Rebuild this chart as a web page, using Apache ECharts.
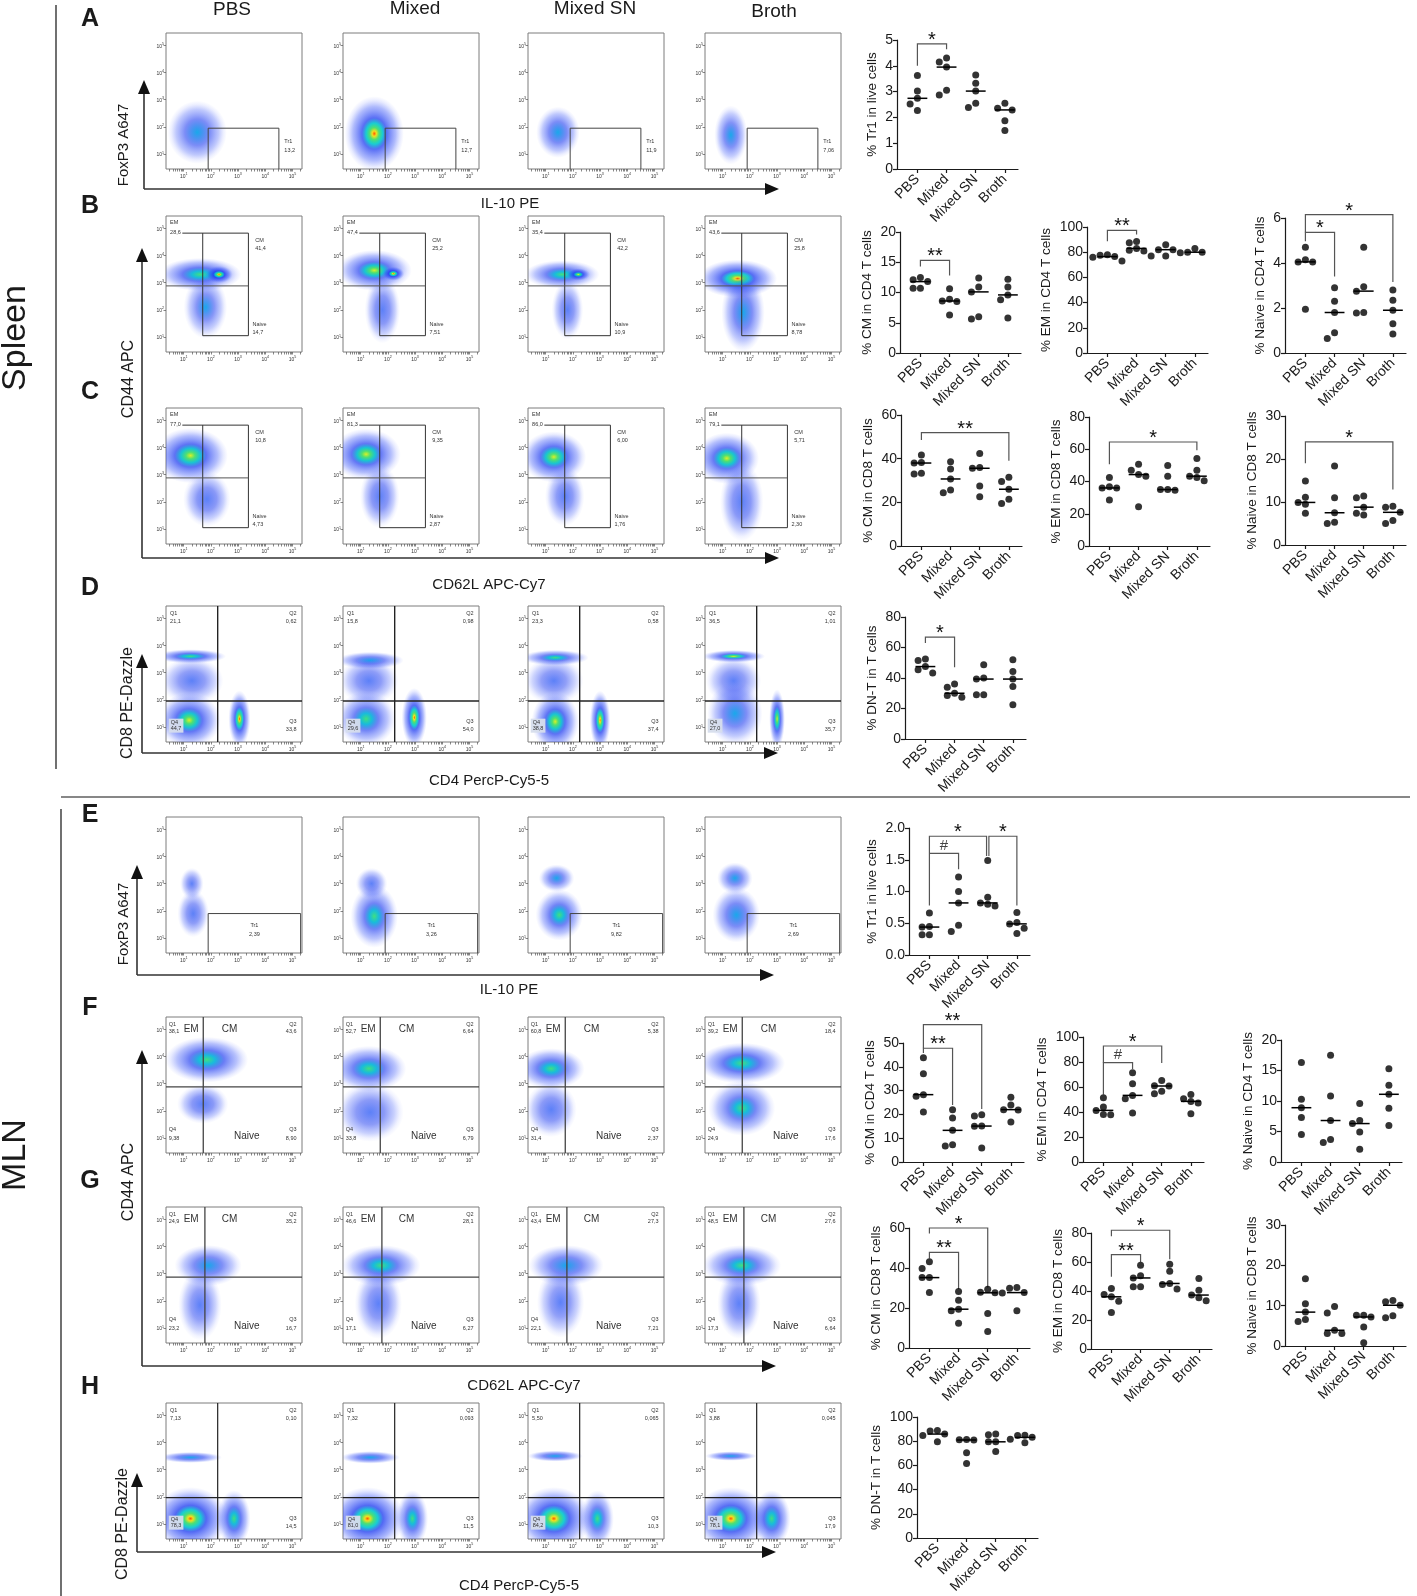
<!DOCTYPE html>
<html>
<head>
<meta charset="utf-8">
<title>Tr1, memory and DN-T cells in spleen and MLN</title>
<script src="https://cdn.jsdelivr.net/npm/echarts@6.0.0/dist/echarts.min.js"></script>
<style>
  html, body { margin: 0; padding: 0; background: #fff; }
  #chart { width: 1417px; height: 1596px; }
</style>
</head>
<body>
<div id="chart"></div>
<script>
var groups = ['PBS', 'Mixed', 'Mixed SN', 'Broth'];

// % per mouse (5 mice per group)
var tr1Spleen      = [[3.62, 3.02, 2.74, 2.52, 2.27], [4.3, 4.15, 3.95, 3.05, 2.87], [3.64, 3.32, 3.02, 2.55, 2.38], [2.55, 2.35, 2.29, 1.87, 1.49]];
var cmCd4Spleen    = [[12.5, 12.1, 11.8, 10.7, 10.7], [10.6, 8.9, 8.6, 8.5, 6.3], [12.4, 10.9, 10.1, 6.0, 5.6], [12.2, 10.9, 9.6, 8.8, 5.8]];
var emCd4Spleen    = [[78, 77.5, 76.5, 76, 73], [88.5, 87.5, 83, 81.5, 81], [86, 82, 82, 77, 77], [83, 80, 80, 79.5, 79.5]];
var naiveCd4Spleen = [[4.7, 4.15, 4.05, 4.05, 1.95], [2.9, 2.3, 1.8, 0.9, 0.65], [4.7, 2.95, 2.75, 1.8, 1.78], [2.8, 2.35, 1.9, 1.3, 0.85]];
var cmCd8Spleen    = [[41.7, 38.2, 38, 33.3, 33], [38.6, 35.3, 30.7, 25.6, 24.4], [42.4, 36, 35.6, 27.5, 22.6], [31.5, 29.5, 26, 21.4, 19.5]];
var emCd8Spleen    = [[42.5, 36.7, 36, 36, 28.5], [50.7, 47, 44.3, 43.3, 24.3], [50, 43.3, 35, 35, 34.6], [54.2, 47, 43.3, 42.5, 40.4]];
var naiveCd8Spleen = [[14.9, 11.1, 9.9, 9.5, 7.4], [18.4, 11, 7.5, 5.3, 5], [11.4, 11, 8.8, 7.4, 7], [9, 8.8, 7.6, 5.7, 5]];
var dnSpleen       = [[52.4, 51.5, 47.5, 45.4, 43.2], [36, 34, 30, 28.5, 27.4], [48.7, 40, 39.3, 29, 29], [52, 44.3, 39.3, 34.4, 22.4]];
var tr1Mln         = [[0.66, 0.45, 0.44, 0.32, 0.32], [1.23, 1.0, 0.82, 0.47, 0.37], [1.49, 0.91, 0.82, 0.8, 0.77], [0.67, 0.51, 0.49, 0.42, 0.34]];
var cmCd4Mln       = [[43.8, 37.1, 28.3, 27.6, 21], [22, 18.5, 13.3, 7.3, 6.7], [19.9, 19.3, 15.1, 15, 5.9], [27.2, 24, 22, 21.8, 16.8]];
var emCd4Mln       = [[51.5, 44, 41.3, 38, 37.9], [71.5, 62.7, 53.3, 50.7, 39.2], [65.3, 61, 60.8, 56.7, 54.7], [54, 50.7, 48.5, 47.3, 38.7]];
var naiveCd4Mln    = [[16.3, 10.3, 8.9, 7.3, 4.5], [17.5, 10.8, 6.8, 3.7, 3.2], [9.6, 6.8, 6.3, 4.9, 2.1], [15.3, 12.6, 11.1, 8.8, 6]];
var cmCd8Mln       = [[43.1, 39.8, 35.2, 35.2, 27.7], [28.2, 23.9, 19.4, 18.6, 12.4], [29.4, 27.9, 27.6, 17.2, 8.3], [30.2, 29.9, 27.7, 27.5, 18.6]];
var emCd8Mln       = [[41.7, 37.6, 36, 33, 25.2], [57.8, 50.5, 49, 43, 42.9], [58.5, 53.7, 45.2, 44.5, 41.3], [48.6, 40.6, 37.2, 35.3, 33.3]];
var naiveCd8Mln    = [[16.7, 10.5, 8.4, 6.6, 6.1], [9.8, 8.2, 3.9, 3.1, 3.1], [7.6, 7.6, 7.2, 4.7, 0.8], [11.3, 11, 10.1, 7.5, 7]];
var dnMln          = [[88.8, 88.5, 85.9, 84.8, 79.5], [81.5, 81.2, 81, 70.5, 61.5], [86, 85.3, 79.5, 79.5, 71.5], [85, 84.8, 83.2, 81.6, 78.7]];

// significance brackets: [from group, to group, bar level, left leg end, right leg end, mark]
var bracketsTr1Spleen      = [[0, 1, 4.85, 4.0, 4.64, '*']];
var bracketsCmCd4Spleen    = [[0, 1, 15.3, 14.3, 12.8, '**']];
var bracketsEmCd4Spleen    = [[0, 1, 97.4, 88.6, 94, '**']];
var bracketsNaiveCd4Spleen = [[0, 1, 5.36, 4.97, 3.4, '*'], [0, 3, 6.15, 5.36, 3.16, '*']];
var bracketsCmCd8Spleen    = [[0, 3, 51.9, 48.5, 39, '**']];
var bracketsEmCd8Spleen    = [[0, 3, 64.5, 50.7, 59.4, '*']];
var bracketsNaiveCd8Spleen = [[0, 3, 24, 19, 12.9, '*']];
var bracketsDnSpleen       = [[0, 1, 66.8, 62.9, 47, '*']];
var bracketsTr1Mln         = [[0, 1.96, 1.87, 0.78, 1.56, '*'], [0, 1, 1.6, 1.6, 1.35, '#'], [2.04, 3, 1.87, 1.56, 0.78, '*']];
var bracketsCmCd4Mln       = [[0, 2, 57.7, 47.8, 22.3, '**'], [0, 1, 47.8, 45.8, 24, '**']];
var bracketsEmCd4Mln       = [[0, 2, 92.8, 79.5, 79.2, '*'], [0, 1, 79.5, 54, 74.4, '#']];
var bracketsCmCd8Mln       = [[0, 2, 60, 57.2, 30.3, '*'], [0, 1, 47.8, 44.8, 29.5, '**']];
var bracketsEmCd8Mln       = [[0, 2, 81.9, 77.8, 61.9, '*'], [0, 1, 65.1, 49.8, 60, '**']];

// gate frequencies printed in the flow plots (PBS, Mixed, Mixed SN, Broth)
var tr1GateSpleen = ['13,2', '12,7', '11,9', '7,06'];
var tr1GateMln    = ['2,39', '3,26', '9,82', '2,69'];
var memCd4Spleen  = [['28,6', '41,4', '14,7'], ['47,4', '25,2', '7,51'], ['35,4', '42,2', '10,9'], ['43,6', '25,8', '8,78']];   // EM, CM, Naive
var memCd8Spleen  = [['77,0', '10,8', '4,73'], ['81,3', '9,35', '2,87'], ['86,0', '6,00', '1,76'], ['79,1', '5,71', '2,30']];
var quadSpleen    = [['21,1', '0,62', '33,8', '44,7'], ['15,8', '0,98', '54,0', '29,6'], ['23,3', '0,58', '37,4', '38,8'], ['36,5', '1,01', '35,7', '27,0']];  // Q1..Q4
var quadCd4Mln    = [['38,1', '43,6', '8,90', '9,38'], ['52,7', '6,64', '6,79', '33,8'], ['60,8', '5,38', '2,37', '31,4'], ['39,2', '18,4', '17,6', '24,9']];
var quadCd8Mln    = [['24,9', '35,2', '16,7', '23,2'], ['46,6', '28,1', '6,27', '17,1'], ['43,4', '27,3', '7,21', '22,1'], ['48,5', '27,6', '6,64', '17,3']];
var quadDnMln     = [['7,13', '0,10', '14,5', '78,3'], ['7,32', '0,093', '11,5', '81,0'], ['5,50', '0,065', '10,3', '84,2'], ['3,88', '0,045', '17,9', '78,1']];

// gate thresholds, log10 fluorescence
var gateTr1Spleen = [1.9, 4.5, 1.95];              // IL-10 from, IL-10 to, FoxP3 top
var gateTr1Mln    = [1.9, 5.3, 1.9];
var gateMem       = [1.7, 3.38, 2.88, 4.82, 1.05];  // CD62L split, CD62L top, CD44 split, CD44 top, CD44 bottom
var quadCd8Cd4    = [2.25, 1.96];                   // CD4 split, CD8 split
var quadCd8Cd4Mln = [2.25, 1.97];
var quadMemCd4Mln = [1.72, 2.88];
var quadMemCd8Mln = [1.78, 2.87];

// cell populations per flow plot: [x centre, y centre, x spread, y spread, density 0-1], log10 units
var cloudsTr1Spleen = [
  [[1.5, 1.8, 0.75, 0.8, 0.5]],
  [[1.5, 1.75, 0.75, 0.95, 0.92]],
  [[1.45, 1.8, 0.55, 0.65, 0.5]],
  [[1.3, 1.7, 0.42, 0.75, 0.4]]
];
var cloudsCd4Spleen = [
  [[1.6, 3.3, 1.05, 0.42, 0.7], [2.3, 3.3, 0.35, 0.22, 0.95], [1.8, 2.1, 0.55, 0.8, 0.35]],
  [[1.5, 3.45, 0.95, 0.52, 0.75], [2.2, 3.33, 0.28, 0.18, 0.95], [1.8, 2.0, 0.45, 0.85, 0.3]],
  [[1.6, 3.3, 0.95, 0.36, 0.6], [2.2, 3.3, 0.3, 0.16, 0.8], [1.8, 2.0, 0.4, 0.75, 0.25]],
  [[1.55, 3.15, 1.0, 0.48, 0.95], [1.75, 1.9, 0.55, 1.0, 0.45]]
];
var cloudsCd8Spleen = [
  [[1.25, 3.7, 0.95, 0.7, 0.85], [1.85, 2.1, 0.6, 0.7, 0.3]],
  [[1.2, 3.75, 0.88, 0.65, 0.8], [1.7, 2.2, 0.5, 0.8, 0.3]],
  [[1.3, 3.65, 0.82, 0.65, 0.8], [1.7, 2.2, 0.5, 0.75, 0.25]],
  [[1.15, 3.6, 0.82, 0.65, 0.75], [1.7, 2.0, 0.55, 1.0, 0.3]]
];
var cloudsDnSpleen = [
  [[1.25, 3.6, 0.9, 0.18, 0.7], [1.3, 2.7, 0.8, 0.6, 0.22], [1.2, 1.25, 0.8, 0.7, 0.8], [3.05, 1.3, 0.28, 0.72, 0.9]],
  [[1.35, 3.45, 0.85, 0.22, 0.5], [1.3, 2.7, 0.75, 0.6, 0.25], [1.2, 1.3, 0.75, 0.7, 0.6], [2.97, 1.35, 0.32, 0.75, 0.95]],
  [[1.35, 3.55, 0.85, 0.2, 0.6], [1.3, 2.7, 0.75, 0.6, 0.22], [1.35, 1.2, 0.6, 0.75, 0.85], [3.0, 1.25, 0.26, 0.75, 0.95]],
  [[1.4, 3.6, 0.8, 0.16, 0.75], [1.4, 2.7, 0.7, 0.6, 0.2], [1.45, 1.5, 0.7, 0.8, 0.45], [3.0, 1.3, 0.2, 0.75, 0.85]]
];
var cloudsTr1Mln = [
  [[1.35, 1.9, 0.4, 0.6, 0.25], [1.3, 3.0, 0.3, 0.4, 0.12]],
  [[1.5, 1.8, 0.6, 0.8, 0.6], [1.4, 3.0, 0.4, 0.4, 0.2]],
  [[1.5, 1.85, 0.6, 0.65, 0.6], [1.4, 3.2, 0.45, 0.35, 0.35]],
  [[1.5, 1.85, 0.6, 0.7, 0.5], [1.45, 3.2, 0.45, 0.4, 0.35]]
];
var cloudsCd4Mln = [
  [[1.85, 3.88, 1.05, 0.58, 0.72], [1.7, 2.25, 0.65, 0.5, 0.3]],
  [[1.3, 3.55, 0.95, 0.58, 0.6], [1.35, 1.95, 0.85, 0.75, 0.28]],
  [[1.2, 3.55, 0.85, 0.52, 0.6], [1.2, 2.05, 0.65, 0.7, 0.28]],
  [[1.7, 3.75, 1.1, 0.52, 0.72], [1.7, 2.1, 0.85, 0.7, 0.55]]
];
var cloudsCd8Mln = [
  [[1.9, 3.3, 0.85, 0.52, 0.45], [1.6, 1.85, 0.55, 0.9, 0.22]],
  [[1.75, 3.3, 1.0, 0.52, 0.6], [1.65, 1.9, 0.6, 0.9, 0.25]],
  [[1.75, 3.3, 0.95, 0.52, 0.45], [1.55, 1.95, 0.6, 0.9, 0.2]],
  [[1.7, 3.3, 1.0, 0.52, 0.55], [1.6, 1.9, 0.55, 0.9, 0.22]]
];
var cloudsDnMln = [
  [[1.25, 3.45, 0.8, 0.14, 0.5], [1.25, 1.2, 0.95, 0.8, 1.0], [2.85, 1.2, 0.42, 0.72, 0.7]],
  [[1.35, 3.45, 0.75, 0.16, 0.5], [1.25, 1.2, 0.95, 0.8, 1.0], [2.9, 1.2, 0.4, 0.72, 0.6]],
  [[1.35, 3.5, 0.7, 0.14, 0.5], [1.3, 1.2, 0.95, 0.8, 0.95], [2.9, 1.2, 0.42, 0.72, 0.55]],
  [[1.3, 3.5, 0.65, 0.12, 0.45], [1.3, 1.2, 0.95, 0.8, 0.95], [2.8, 1.2, 0.48, 0.72, 0.7]]
];

var FONT = '"Liberation Sans", Arial, Helvetica, sans-serif';
var NARROW = '"Liberation Sans Narrow", "Liberation Sans", Arial, sans-serif';
var INK = '#1a1a1a';

var chart = echarts.init(document.getElementById('chart'));
var grids = [], xAxes = [], yAxes = [], series = [], graphics = [];

function addGrid(grid, xAxis, yAxis) {
  var idx = grids.length;
  grids.push(grid);
  xAxis.gridIndex = idx;
  yAxis.gridIndex = idx;
  xAxes.push(xAxis);
  yAxes.push(yAxis);
  return idx;
}

function median(arr) {
  var s = arr.slice().sort(function (a, b) { return a - b; });
  return s[Math.floor(s.length / 2)];
}

// spread the mice sideways when their dots would overlap
function swarm(values, pxX, pxY) {
  var steps = [0, -0.25, 0.25, -0.5, 0.5, -0.75, 0.75];
  var placed = [], offsets = [];
  var order = values.map(function (v, i) { return i; }).sort(function (a, b) { return values[b] - values[a]; });
  order.forEach(function (i) {
    for (var k = 0; k < steps.length; k++) {
      var free = placed.every(function (p) {
        var dx = (p.o - steps[k]) * pxX, dy = (p.v - values[i]) * pxY;
        return dx * dx + dy * dy >= 46;
      });
      if (free || k === steps.length - 1) {
        placed.push({o: steps[k], v: values[i]});
        offsets[i] = steps[k];
        break;
      }
    }
  });
  return offsets;
}

/* ---------- dot plots ---------- */
var DOT_W = 121, X_MIN = -0.7, X_MAX = 3.45;

function dotPlot(p) {
  var h = p.bottom - p.top;
  var pxX = DOT_W / (X_MAX - X_MIN), pxY = h / p.yMax;
  var dec = p.step < 1 ? 1 : 0;
  var topLabel = p.yMax.toFixed(dec);
  var digits = topLabel.replace('.', '').length, dots = topLabel.length - digits;
  var gi = addGrid(
    {left: p.left, top: p.top, width: DOT_W, height: h},
    {type: 'value', min: X_MIN, max: X_MAX,
      axisLine: {show: true, onZero: false, lineStyle: {color: INK, width: 1.2}},
      axisTick: {show: true, customValues: [0, 1, 2, 3], length: 4, lineStyle: {color: INK, width: 1.2}},
      axisLabel: {customValues: [0, 1, 2, 3], formatter: function (v) { return groups[Math.round(v)]; },
        rotate: 45, margin: 8, fontSize: 14, color: INK, fontFamily: FONT},
      splitLine: {show: false}},
    {type: 'value', min: 0, max: p.yMax, interval: p.step,
      name: p.name, nameLocation: 'middle', nameGap: 10 + 7.8 * digits + 3.9 * dots,
      nameTextStyle: {fontSize: 13.5, color: INK, fontFamily: FONT},
      axisLine: {show: true, onZero: false, lineStyle: {color: INK, width: 1.2}},
      axisTick: {show: true, length: 4, lineStyle: {color: INK, width: 1.2}},
      axisLabel: {fontSize: 14, color: INK, margin: 4, fontFamily: FONT,
        formatter: function (v) { return v.toFixed(dec); }},
      splitLine: {show: false}}
  );
  var pts = [], meds = [];
  p.values.forEach(function (vals, g) {
    var off = swarm(vals, pxX, pxY);
    vals.forEach(function (v, i) { pts.push([g + off[i], v]); });
    meds.push([g, median(vals)]);
  });
  series.push({type: 'scatter', xAxisIndex: gi, yAxisIndex: gi, data: pts, symbolSize: 7,
    itemStyle: {color: '#000'}, silent: true, z: 3});
  series.push({type: 'custom', xAxisIndex: gi, yAxisIndex: gi, data: meds, silent: true, z: 2,
    renderItem: function (params, api) {
      var a = api.coord([api.value(0) - 0.34, api.value(1)]);
      var b = api.coord([api.value(0) + 0.34, api.value(1)]);
      return {type: 'line', shape: {x1: a[0], y1: a[1], x2: b[0], y2: b[1]}, style: {stroke: '#000', lineWidth: 1.5}};
    }});
  if (p.brackets && p.brackets.length) {
    series.push({type: 'custom', xAxisIndex: gi, yAxisIndex: gi, clip: false, silent: true, z: 2,
      data: p.brackets.map(function (b) { return b.slice(0, 5); }),
      renderItem: function (params, api) {
        var b = p.brackets[params.dataIndex];
        var mid = api.coord([(b[0] + b[1]) / 2, b[2]]);
        var hash = b[5] === '#';
        return {type: 'group', children: [
          {type: 'polyline', shape: {points: [api.coord([b[0], b[3]]), api.coord([b[0], b[2]]),
            api.coord([b[1], b[2]]), api.coord([b[1], b[4]])]},
            style: {stroke: '#555', lineWidth: 1.2, fill: 'none'}},
          {type: 'text', x: mid[0], y: mid[1] - (hash ? 8 : 3.5),
            style: {text: b[5], fontSize: hash ? 15 : 20, fontFamily: FONT, fill: hash ? '#444' : '#111',
              align: 'center', verticalAlign: 'middle'}}
        ]};
      }});
  }
}

var dotPlots = [
  {values: tr1Spleen, name: '% Tr1 in live cells', yMax: 5, step: 1, brackets: bracketsTr1Spleen, left: 897, top: 40, bottom: 169},
  {values: cmCd4Spleen, name: '% CM in CD4 T cells', yMax: 20, step: 5, brackets: bracketsCmCd4Spleen, left: 900, top: 232, bottom: 353},
  {values: emCd4Spleen, name: '% EM in CD4 T cells', yMax: 100, step: 20, brackets: bracketsEmCd4Spleen, left: 1087, top: 227, bottom: 353},
  {values: naiveCd4Spleen, name: '% Naive in CD4 T cells', yMax: 6, step: 2, brackets: bracketsNaiveCd4Spleen, left: 1285, top: 218, bottom: 353},
  {values: cmCd8Spleen, name: '% CM in CD8 T cells', yMax: 60, step: 20, brackets: bracketsCmCd8Spleen, left: 901, top: 415, bottom: 546},
  {values: emCd8Spleen, name: '% EM in CD8 T cells', yMax: 80, step: 20, brackets: bracketsEmCd8Spleen, left: 1089, top: 417, bottom: 546},
  {values: naiveCd8Spleen, name: '% Naive in CD8 T cells', yMax: 30, step: 10, brackets: bracketsNaiveCd8Spleen, left: 1285, top: 416, bottom: 545},
  {values: dnSpleen, name: '% DN-T in T cells', yMax: 80, step: 20, brackets: bracketsDnSpleen, left: 905, top: 617, bottom: 739},
  {values: tr1Mln, name: '% Tr1 in live cells', yMax: 2, step: 0.5, brackets: bracketsTr1Mln, left: 909, top: 828, bottom: 955},
  {values: cmCd4Mln, name: '% CM in CD4 T cells', yMax: 50, step: 10, brackets: bracketsCmCd4Mln, left: 903, top: 1043, bottom: 1162},
  {values: emCd4Mln, name: '% EM in CD4 T cells', yMax: 100, step: 20, brackets: bracketsEmCd4Mln, left: 1083, top: 1037, bottom: 1162},
  {values: naiveCd4Mln, name: '% Naive in CD4 T cells', yMax: 20, step: 5, brackets: [], left: 1281, top: 1040, bottom: 1162},
  {values: cmCd8Mln, name: '% CM in CD8 T cells', yMax: 60, step: 20, brackets: bracketsCmCd8Mln, left: 909, top: 1228, bottom: 1348},
  {values: emCd8Mln, name: '% EM in CD8 T cells', yMax: 80, step: 20, brackets: bracketsEmCd8Mln, left: 1091, top: 1233, bottom: 1349},
  {values: naiveCd8Mln, name: '% Naive in CD8 T cells', yMax: 30, step: 10, brackets: [], left: 1285, top: 1225, bottom: 1346},
  {values: dnMln, name: '% DN-T in T cells', yMax: 100, step: 20, brackets: [], left: 917, top: 1417, bottom: 1542}
];
dotPlots.forEach(dotPlot);

/* ---------- flow cytometry plots ---------- */
var FLOW = 136, FX = [0.35, 5.35], FY = [0.45, 5.45];
var flowCols = [166, 343, 528, 705];
var flowTicks = [];
for (var n = 0; n <= 5; n++) {
  for (var k = 1; k <= 9; k++) {
    var t = n + Math.log10(k);
    if (t > FX[0] && t < FX[1]) flowTicks.push(t);
  }
}
function powLabel(v) { return '{a|10}{b|' + Math.round(v) + '}'; }
var powRich = {
  a: {fontSize: 5, color: '#333', fontFamily: FONT, lineHeight: 7, verticalAlign: 'bottom'},
  b: {fontSize: 3.6, color: '#333', fontFamily: FONT, lineHeight: 7, verticalAlign: 'top'}
};

// density colouring: red/yellow core fading through green and cyan to sparse blue events
function cloudFill(d) {
  var stops;
  if (d >= 0.9) {
    stops = [[0, '#ff5a00'], [0.07, '#f0e020'], [0.16, '#50e070'], [0.28, 'rgba(0,200,205,0.9)']];
  } else if (d >= 0.75) {
    stops = [[0, '#d8f028'], [0.12, '#50e070'], [0.26, 'rgba(0,190,205,0.9)']];
  } else if (d >= 0.55) {
    stops = [[0, '#40e080'], [0.2, 'rgba(0,180,215,0.9)']];
  } else if (d >= 0.35) {
    stops = [[0, 'rgba(0,160,232,0.9)']];
  } else {
    stops = [[0, 'rgba(30,80,245,0.72)']];
  }
  stops.push([0.42, 'rgba(25,55,240,' + (0.4 + 0.35 * d).toFixed(2) + ')']);
  stops.push([0.72, 'rgba(45,75,248,' + (0.2 + 0.2 * d).toFixed(2) + ')']);
  stops.push([0.88, 'rgba(70,95,252,' + (0.06 + 0.08 * d).toFixed(2) + ')']);
  stops.push([1, 'rgba(90,110,255,0)']);
  return {type: 'radial', x: 0.5, y: 0.5, r: 0.5, colorStops: stops.map(function (s) { return {offset: s[0], color: s[1]}; })};
}

function flowFrame(left, top, clouds) {
  var gi = addGrid(
    {left: left, top: top, width: FLOW, height: FLOW, show: true, borderColor: '#7c7c7c', borderWidth: 1, backgroundColor: '#fff'},
    {type: 'value', min: FX[0], max: FX[1],
      axisLine: {show: false, onZero: false},
      axisTick: {show: true, customValues: flowTicks, length: 2.5, lineStyle: {color: '#555', width: 0.7}},
      axisLabel: {customValues: [1, 2, 3, 4, 5], formatter: powLabel, rich: powRich, margin: 3},
      splitLine: {show: false}},
    {type: 'value', min: FY[0], max: FY[1],
      axisLine: {show: false, onZero: false},
      axisTick: {show: true, customValues: [1, 2, 3, 4, 5], length: 2.5, lineStyle: {color: '#555', width: 0.7}},
      axisLabel: {customValues: [1, 2, 3, 4, 5], formatter: powLabel, rich: powRich, margin: 2},
      splitLine: {show: false}}
  );
  series.push({type: 'custom', xAxisIndex: gi, yAxisIndex: gi, clip: true, silent: true, z: 1, data: clouds,
    renderItem: function (params, api) {
      var c = api.coord([api.value(0), api.value(1)]);
      var s = api.size([api.value(2) * 1.45, api.value(3) * 1.45]);
      return {type: 'circle', x: c[0], y: c[1], scaleX: s[0], scaleY: s[1],
        shape: {cx: 0, cy: 0, r: 1}, style: {fill: cloudFill(api.value(4))}};
    }});
  return gi;
}

function overlay(gi, build) {
  series.push({type: 'custom', xAxisIndex: gi, yAxisIndex: gi, clip: false, silent: true, z: 4, data: [[0]],
    renderItem: function (params, api) {
      return {type: 'group', children: build(function (x, y) { return api.coord([x, y]); })};
    }});
}
function seg(pts, color, width) {
  return {type: 'polyline', shape: {points: pts}, style: {stroke: color, lineWidth: width, fill: 'none'}};
}
function tag(pt, text, opt) {
  opt = opt || {};
  var st = {text: text, fontSize: opt.size || 5.5, fontFamily: opt.font || NARROW, fill: '#333',
    align: opt.align || 'left', verticalAlign: 'middle'};
  if (opt.bg) { st.backgroundColor = opt.bg; st.padding = [1, 2]; }
  return {type: 'text', x: pt[0], y: pt[1], style: st};
}

function tr1Gate(gi, g, value, inside) {
  overlay(gi, function (c) {
    var lx = inside ? (g[0] + g[1]) / 2 : g[1] + 0.2, al = inside ? 'center' : 'left';
    return [
      seg([c(g[0], FY[0]), c(g[0], g[2]), c(g[1], g[2]), c(g[1], FY[0])], '#444', 1),
      tag(c(lx, 1.45), 'Tr1', {align: al}),
      tag(c(lx, 1.12), value, {align: al})
    ];
  });
}
function memGate(gi, g, vals) {
  overlay(gi, function (c) {
    return [
      seg([c(FX[0] + 0.6, g[3]), c(g[1], g[3]), c(g[1], g[4]), c(g[0], g[4]), c(g[0], g[3])], '#333', 1),
      seg([c(FX[0], g[2]), c(g[1], g[2])], '#555', 1),
      tag(c(0.5, 5.2), 'EM'), tag(c(0.5, 4.85), vals[0]),
      tag(c(g[1] + 0.25, 4.55), 'CM'), tag(c(g[1] + 0.25, 4.25), vals[1]),
      tag(c(g[1] + 0.15, 1.45), 'Naive'), tag(c(g[1] + 0.15, 1.15), vals[2])
    ];
  });
}
function quadGate(gi, q, vals, color, width) {
  overlay(gi, function (c) {
    return [
      seg([c(q[0], FY[0]), c(q[0], FY[1])], color, width),
      seg([c(FX[0], q[1]), c(FX[1], q[1])], color, width),
      tag(c(0.5, 5.18), 'Q1'), tag(c(0.5, 4.88), vals[0]),
      tag(c(5.15, 5.18), 'Q2', {align: 'right'}), tag(c(5.15, 4.88), vals[1], {align: 'right'}),
      tag(c(5.15, 1.2), 'Q3', {align: 'right'}), tag(c(5.15, 0.9), vals[2], {align: 'right'}),
      tag(c(0.45, 1.05), 'Q4\n' + vals[3], {bg: 'rgba(214,221,236,0.95)'})
    ];
  });
}
function quadMemGate(gi, q, vals) {
  overlay(gi, function (c) {
    return [
      seg([c(q[0], FY[0]), c(q[0], FY[1])], '#444', 1.3),
      seg([c(FX[0], q[1]), c(FX[1], q[1])], '#444', 1.3),
      tag(c(0.45, 5.18), 'Q1'), tag(c(0.45, 4.9), vals[0]),
      tag(c(1.0, 5.0), 'EM', {size: 10}), tag(c(2.4, 5.0), 'CM', {size: 10}),
      tag(c(5.15, 5.18), 'Q2', {align: 'right'}), tag(c(5.15, 4.9), vals[1], {align: 'right'}),
      tag(c(0.45, 1.3), 'Q4'), tag(c(0.45, 1.0), vals[3]),
      tag(c(2.85, 1.05), 'Naive', {size: 10}),
      tag(c(5.15, 1.3), 'Q3', {align: 'right'}), tag(c(5.15, 1.0), vals[2], {align: 'right'})
    ];
  });
}

function flowRow(top, clouds, draw) {
  flowCols.forEach(function (left, i) { draw(flowFrame(left, top, clouds[i]), i); });
}
flowRow(33, cloudsTr1Spleen, function (gi, i) { tr1Gate(gi, gateTr1Spleen, tr1GateSpleen[i], false); });
flowRow(216, cloudsCd4Spleen, function (gi, i) { memGate(gi, gateMem, memCd4Spleen[i]); });
flowRow(408, cloudsCd8Spleen, function (gi, i) { memGate(gi, gateMem, memCd8Spleen[i]); });
flowRow(606, cloudsDnSpleen, function (gi, i) { quadGate(gi, quadCd8Cd4, quadSpleen[i], '#222', 1.4); });
flowRow(817, cloudsTr1Mln, function (gi, i) { tr1Gate(gi, gateTr1Mln, tr1GateMln[i], true); });
flowRow(1017, cloudsCd4Mln, function (gi, i) { quadMemGate(gi, quadMemCd4Mln, quadCd4Mln[i]); });
flowRow(1207, cloudsCd8Mln, function (gi, i) { quadMemGate(gi, quadMemCd8Mln, quadCd8Mln[i]); });
flowRow(1403, cloudsDnMln, function (gi, i) { quadGate(gi, quadCd8Cd4Mln, quadDnMln[i], '#222', 1.2); });

/* ---------- labels, arrows and dividers ---------- */
function text(x, y, str, size, opt) {
  opt = opt || {};
  graphics.push({type: 'text', x: x, y: y, rotation: opt.rot || 0, silent: true,
    style: {text: str, fontSize: size, fontFamily: opt.font || FONT, fontWeight: opt.bold ? 'bold' : 'normal',
      fill: opt.color || INK, align: 'center', verticalAlign: 'middle'}});
}
function rule(x1, y1, x2, y2, w, color) {
  graphics.push({type: 'line', silent: true, shape: {x1: x1, y1: y1, x2: x2, y2: y2},
    style: {stroke: color || '#111', lineWidth: w || 1.2}});
}
function arrowUp(x, base, tip) {
  rule(x, base, x, tip + 12, 1.6, '#333');
  graphics.push({type: 'polygon', silent: true, shape: {points: [[x - 6, tip + 14], [x + 6, tip + 14], [x, tip]]}, style: {fill: '#111'}});
}
function arrowRight(base, y, tip) {
  rule(base, y, tip - 12, y, 1.6, '#333');
  graphics.push({type: 'polygon', silent: true, shape: {points: [[tip - 14, y - 6], [tip - 14, y + 6], [tip, y]]}, style: {fill: '#111'}});
}

text(232, 10, 'PBS', 19);
text(415, 9, 'Mixed', 19);
text(595, 9, 'Mixed SN', 19);
text(774, 12, 'Broth', 19);

[['A', 19], ['B', 206], ['C', 392], ['D', 588], ['E', 815], ['F', 1008], ['G', 1181], ['H', 1387]].forEach(function (l) {
  text(90, l[1], l[0], 25, {bold: true});
});

text(16, 338, 'Spleen', 34, {rot: Math.PI / 2});
text(16, 1155, 'MLN', 34, {rot: Math.PI / 2});
rule(56, 5, 56, 769);
rule(61, 797, 1410, 797);
rule(61, 809, 61, 1596);

text(124, 145, 'FoxP3 A647', 15, {rot: Math.PI / 2});
text(129, 379, 'CD44 APC', 16, {rot: Math.PI / 2});
text(128, 703, 'CD8 PE-Dazzle', 16, {rot: Math.PI / 2});
text(124, 924, 'FoxP3 A647', 15, {rot: Math.PI / 2});
text(129, 1182, 'CD44 APC', 16, {rot: Math.PI / 2});
text(123, 1524, 'CD8 PE-Dazzle', 16, {rot: Math.PI / 2});

text(510, 204, 'IL-10 PE', 15, {font: NARROW});
text(489, 585, 'CD62L APC-Cy7', 15, {font: NARROW});
text(489, 781, 'CD4 PercP-Cy5-5', 15, {font: NARROW});
text(509, 990, 'IL-10 PE', 15, {font: NARROW});
text(524, 1386, 'CD62L APC-Cy7', 15, {font: NARROW});
text(519, 1586, 'CD4 PercP-Cy5-5', 15, {font: NARROW});

arrowUp(144, 189, 80);   arrowRight(144, 189, 779);
arrowUp(142, 558, 248);  arrowRight(142, 558, 779);
arrowUp(142, 753, 654);  arrowRight(142, 753, 778);
arrowUp(137, 975, 865);  arrowRight(137, 975, 774);
arrowUp(142, 1366, 1050); arrowRight(142, 1366, 776);
arrowUp(137, 1552, 1473); arrowRight(137, 1552, 776);

chart.setOption({
  animation: false,
  backgroundColor: '#fff',
  textStyle: {fontFamily: FONT},
  grid: grids,
  xAxis: xAxes,
  yAxis: yAxes,
  series: series,
  graphic: graphics
});
</script>
</body>
</html>
